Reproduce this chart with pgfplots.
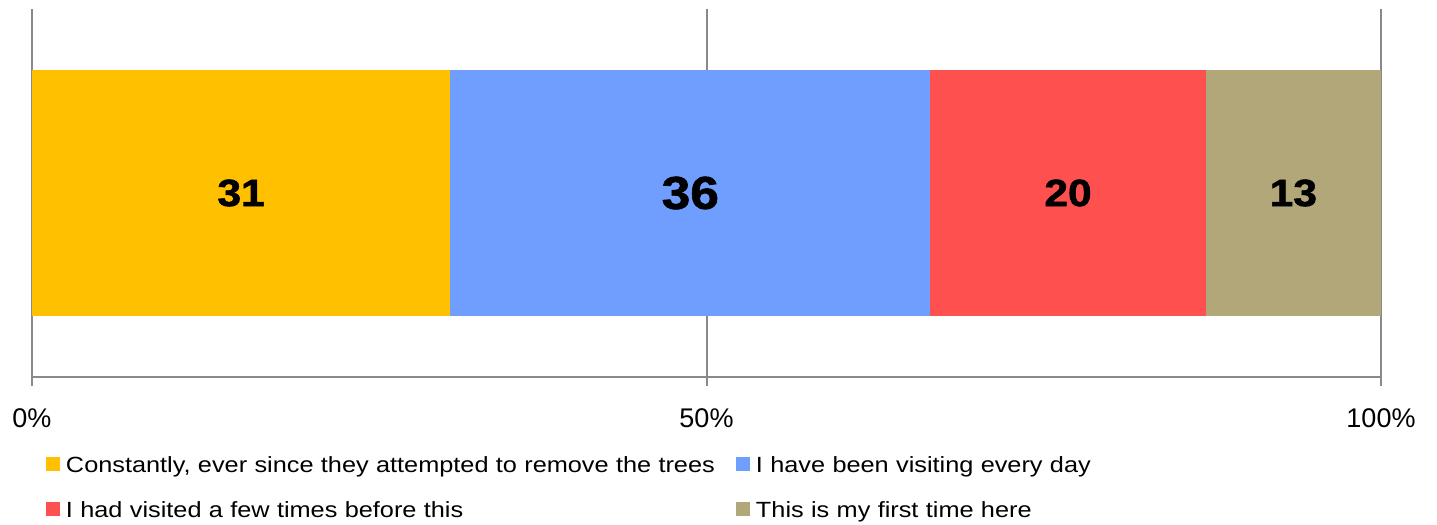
\documentclass[border=0pt]{standalone}
\usepackage{pgfplots}
\pgfplotsset{compat=1.18}
\usepackage{fontspec}
\setmainfont{Liberation Sans}
\newfontfamily\legendfont[FakeStretch=1.15]{Liberation Sans}
\newfontfamily\labelfont[FakeStretch=1.12,FakeBold=1.5]{Liberation Sans Bold}

\definecolor{cYellow}{RGB}{255,192,0}
\definecolor{cBlue}{RGB}{111,158,255}
\definecolor{cRed}{RGB}{255,80,80}
\definecolor{cTan}{RGB}{178,167,121}
\definecolor{gridgray}{RGB}{137,137,137}

\begin{document}
\begin{tikzpicture}
  % bars
  \begin{axis}[
      scale only axis,
      width=674.5pt, height=184pt,
      xmin=0, xmax=100, ymin=-0.75, ymax=0.75,
      xbar stacked, bar width=1.0,
      axis x line*=bottom, axis y line=none,
      xtick={0,50,100}, xticklabels={0\%,50\%,100\%}, ytick=\empty,
      xmajorgrids, major grid style={gridgray, line width=1pt},
      x axis line style={gridgray, line width=1pt},
      tick align=outside, major tick length=4.5pt,
      major tick style={gridgray, line width=1pt},
      xticklabel style={font=\fontsize{13.5}{14}\selectfont, anchor=north, inner sep=0pt, yshift=-11pt},
      legend columns=2,
      legend image code/.code={\fill[#1] (0pt,0.5pt) rectangle (7pt,7.5pt);},
      legend style={draw=none, fill=none, inner sep=0pt, outer sep=0pt,
        at={(0,0)}, anchor=north west, xshift=7pt, yshift=-39.5pt,
        font=\legendfont\fontsize{11}{13}\selectfont,
        row sep=12pt, cells={anchor=base west},
        nodes={inner sep=0pt, text height=8pt, text depth=2.5pt, text width=330pt},
        /tikz/every odd column/.style={column sep=3pt},
        /tikz/every even column/.style={column sep=5pt}},
    ]
    \addplot[fill=cYellow, draw=none] coordinates {(31,0)};
    \addplot[fill=cBlue, draw=none] coordinates {(35.6,0)};
    \addplot[fill=cRed, draw=none] coordinates {(20.4,0)};
    \addplot[fill=cTan, draw=none] coordinates {(13,0)};
    \legend{{Constantly, ever since they attempted to remove the trees},
      {I have been visiting every day},
      {I had visited a few times before this},
      {This is my first time here}}
  \end{axis}
  % data labels
  \begin{axis}[
      scale only axis,
      width=674.5pt, height=184pt,
      xmin=0, xmax=100, ymin=-0.75, ymax=0.75,
      hide axis,
      point meta=explicit symbolic,
      nodes near coords,
    ]
    \addplot[only marks, mark=*, mark size=0pt, mark options={draw=none, fill=none},
      every node near coord/.append style={font=\labelfont\fontsize{19}{19}\selectfont, anchor=center, text=black}]
      coordinates {(15.5,0) [31] (76.8,0) [20] (93.5,0) [13]};
    \addplot[only marks, mark=*, mark size=0pt, mark options={draw=none, fill=none},
      every node near coord/.append style={font=\labelfont\fontsize{23}{23}\selectfont, anchor=center, text=black}]
      coordinates {(48.8,0) [36]};
  \end{axis}
  \pgfresetboundingbox
  \path (-16pt,-74pt) rectangle (702.5pt,188.5pt);
\end{tikzpicture}
\end{document}
